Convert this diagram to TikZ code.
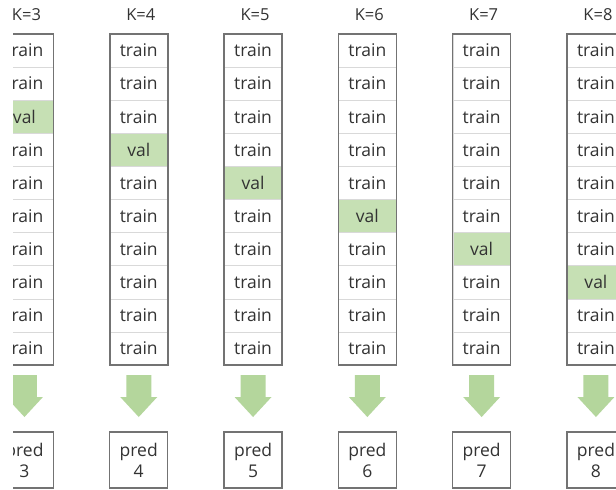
\documentclass[tikz,border=0pt]{standalone}
\usepackage{fontspec}
\setmainfont{Open Sans}
\definecolor{valgreen}{HTML}{C6E0B4}
\definecolor{arrowgreen}{HTML}{B4D69C}
\definecolor{txt}{HTML}{333333}
\begin{document}
\begin{tikzpicture}[x=1pt,y=-1pt,
  cell/.style={draw=gray!30, line width=0.5pt, minimum width=57.5pt, minimum height=33.1pt,
    inner sep=0pt, font=\fontsize{17.5}{19}\selectfont, text=txt},
  klabel/.style={font=\fontsize{16.5}{18}\selectfont, text=txt, inner sep=0pt},
  outer/.style={draw=black!55, line width=1.6pt},
  predbox/.style={draw=black!55, line width=1.4pt, minimum width=58pt, minimum height=56pt,
    inner sep=0pt, align=center, font=\fontsize{17.5}{21}\selectfont, text=txt},
  fatarrow/.style={fill=arrowgreen, draw=none}]
\useasboundingbox (0,0) rectangle (616,490);
\clip (0,0) rectangle (616,490);
\fill[white] (0,0) rectangle (616,490);
\foreach \k [count=\i from 0] in {3,...,8} {
  \pgfmathsetmacro\cx{24.45+\i*114.3}
  \node[klabel] (k\k) at ({\cx+2},15) {K=\k};
  \foreach \r in {1,...,10} {
    \ifnum\r=\k\relax \def\fc{valgreen}\def\tx{val}\else \def\fc{white}\def\tx{train}\fi
    \node[cell, fill=\fc] (c\k-\r) at (\cx,{34+(\r-0.5)*33.1}) {\tx};
  }
  \draw[outer] (c\k-1.north west) rectangle (c\k-10.south east);
  \node[predbox] (p\k) at (\cx,460) {pred\\\k};
  \fill[fatarrow] ({\cx-12.5},375) -- ({\cx+12.5},375) -- ({\cx+12.5},397) -- ({\cx+18.5},397)
     -- (\cx,417) -- ({\cx-18.5},397) -- ({\cx-12.5},397) -- cycle;
}
\fill[white] (0,0) rectangle (12.5,490);
\end{tikzpicture}
\end{document}
